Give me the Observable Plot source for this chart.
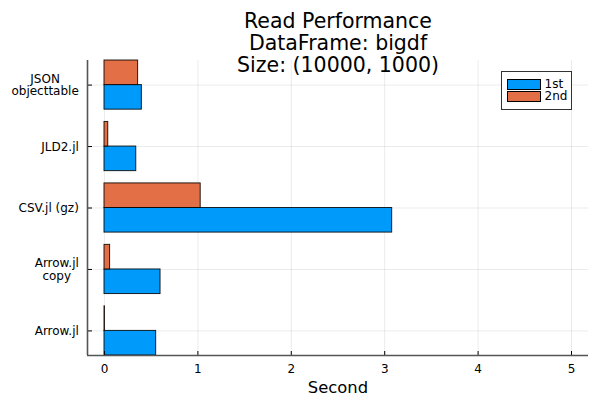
<!DOCTYPE html>
<html><head><meta charset="utf-8">
<script src="https://cdn.jsdelivr.net/npm/d3@7"></script>
<script src="https://cdn.jsdelivr.net/npm/@observablehq/plot@0.6"></script>
<style>
body{margin:0;background:#fff;}
#wrap{position:relative;width:600px;height:400px;font-family:"DejaVu Sans",sans-serif;}
#legend{position:absolute;left:500.5px;top:70.5px;width:71.5px;height:39px;border:1px solid #333;background:#fff;box-sizing:border-box;font-size:12px;color:#000;}
#legend .sw{position:absolute;left:5px;width:34px;height:11px;border:1px solid #000;box-sizing:border-box;}
#legend .lb{position:absolute;left:43px;line-height:11px;}
</style></head><body><div id="wrap"></div>
<script>
const categories = ["Arrow.jl", "Arrow.jl\ncopy", "CSV.jl (gz)", "JLD2.jl", "JSON\nobjecttable"];
const series = ["1st", "2nd"];
const firstValues = [0.553, 0.60, 3.08, 0.34, 0.40];
const secondValues = [0.005, 0.06, 1.03, 0.04, 0.36];
const xTicks = [0, 1, 2, 3, 4, 5];
const colors = ["#009AFA", "#E26F46"];
const titleText = "Read Performance\nDataFrame: bigdf\nSize: (10000, 1000)";
const xLabel = "Second";

const xDomain = [-0.182, 5.182];
const yDomain = [0.6, 5.4];
const barHalf = 0.4;

const rows = [];
categories.forEach((c, i) => {
  const pos = i + 1;
  [firstValues[i], secondValues[i]].forEach((v, s) => {
    rows.push({cat: c, pos, series: series[s], value: v,
      y1: s === 0 ? pos - barHalf : pos, y2: s === 0 ? pos : pos + barHalf});
  });
});

const ctx = document.createElement("canvas").getContext("2d");
ctx.font = "12px 'DejaVu Sans'";
const labelMarks = categories.map((c, i) => {
  const w = Math.max(...c.split("\n").map(l => ctx.measureText(l).width));
  return Plot.text([c], {frameAnchor: "left", y: () => i + 1, text: d => d,
    textAnchor: "middle", dx: -(8.7 + w / 2), lineHeight: 1.05, fontSize: 12, fill: "#000"});
});

const chart = Plot.plot({
  width: 600, height: 400,
  marginLeft: 87, marginRight: 12, marginTop: 60, marginBottom: 45,
  style: {fontFamily: "DejaVu Sans", fontSize: "12px", background: "#fff", color: "#000"},
  x: {domain: xDomain, axis: null},
  y: {domain: yDomain, axis: null},
  color: {domain: series, range: colors},
  marks: [
    Plot.gridX(xTicks, {stroke: "#000", strokeOpacity: 0.08, strokeWidth: 1}),
    Plot.gridY(categories.map((c, i) => i + 1), {stroke: "#000", strokeOpacity: 0.08, strokeWidth: 1}),
    Plot.rect(rows, {x1: () => 0, x2: "value", y1: "y1", y2: "y2", fill: "series",
      stroke: "#000", strokeOpacity: 0.85, strokeWidth: 1}),
    Plot.axisX({ticks: xTicks, tickSize: 0, tickPadding: 9, tickFormat: d => String(d), fontSize: 12, label: null}),
    Plot.axisX({ticks: xTicks, tickSize: -4, tickFormat: () => "", stroke: "#000", label: null}),
    Plot.axisY({ticks: categories.map((c, i) => i + 1), tickSize: -5, tickFormat: () => "", stroke: "#000", label: null}),
    Plot.ruleX([xDomain[0]], {stroke: "#555", strokeWidth: 1.6}),
    Plot.ruleY([yDomain[0]], {stroke: "#555", strokeWidth: 1.6}),
    ...labelMarks,
    Plot.text([titleText], {frameAnchor: "top", dy: -17.7, text: d => d, fontSize: 20.5,
      lineHeight: 1.08, lineAnchor: "middle", fill: "#000"}),
    Plot.text([xLabel], {frameAnchor: "bottom", dy: 32.3, text: d => d, fontSize: 16.4,
      lineAnchor: "middle", fill: "#000"})
  ]
});
const wrap = document.getElementById("wrap");
wrap.appendChild(chart);

const legend = document.createElement("div");
legend.id = "legend";
series.forEach((s, i) => {
  const sw = document.createElement("div");
  sw.className = "sw";
  sw.style.top = (7 + i * 12.5) + "px";
  sw.style.background = colors[i];
  legend.appendChild(sw);
  const lb = document.createElement("div");
  lb.className = "lb";
  lb.style.top = (7 + i * 12.5) + "px";
  lb.textContent = s;
  legend.appendChild(lb);
});
wrap.appendChild(legend);
</script></body></html>
